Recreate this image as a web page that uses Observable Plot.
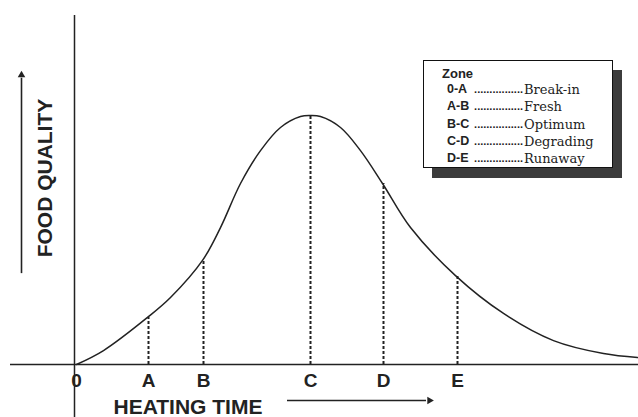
<!DOCTYPE html>
<html>
<head>
<meta charset="utf-8">
<script src="https://cdn.jsdelivr.net/npm/d3@7"></script>
<script src="https://cdn.jsdelivr.net/npm/@observablehq/plot@0.6"></script>
<style>
  html, body { margin: 0; padding: 0; background: #fff; }
  #wrap { position: relative; width: 638px; height: 417px; overflow: hidden; }
  #legend {
    position: absolute; left: 423px; top: 60px; width: 188px; height: 106px;
    border: 1px solid #111; background: #fff;
    box-shadow: 9px 10px 0 #3c3c3c;
    font-family: "Liberation Sans", Arial, sans-serif; color: #222;
  }
  #legend .title { position: absolute; left: 18px; top: 5px; font-size: 13px; font-weight: bold; line-height: 16px; }
  #legend .row { position: absolute; left: 23px; width: 162px; height: 17px; line-height: 17px; }
  #legend .code { position: absolute; left: 0; top: 0; font-size: 12.5px; font-weight: bold; white-space: nowrap; }
  #legend .dots { position: absolute; top: 0; font-size: 11px; font-weight: bold; white-space: nowrap; }
  #legend .desc { position: absolute; left: 77px; top: 0; font-family: "DejaVu Serif", serif; font-size: 13px; white-space: nowrap; }
</style>
</head>
<body>
<div id="wrap"></div>
<script>
// Curve (arbitrary units: heating time, food quality 0-100)
const heatTime    = [0, 2.7, 7.1, 9.4, 12.6, 14.4, 16.4, 18.4, 20.4, 22.4, 23.4, 24.4, 26.4, 28.4, 30.6, 33.4, 37.9, 42.7, 47.7, 52.7, 56.1];
const foodQuality = [0, 5.6, 18.9, 26.9, 41.8, 55.0, 72.7, 85.9, 95.2, 99.6, 100, 99.6, 95.2, 85.9, 72.7, 55.0, 35.7, 20.5, 9.6, 4.4, 2.8];

// Zone boundaries
const tickLabels = ["0", "A", "B", "C", "D", "E"];
const tickTimes  = [0, 7.2, 12.7, 23.4, 30.7, 38.1];
const tickQuality = [0, 18.9, 41.8, 100, 72.7, 35.3];

// Legend
const zoneCodes = ["0-A", "A-B", "B-C", "C-D", "D-E"];
const zoneNames = ["Break-in", "Fresh", "Optimum", "Degrading", "Runaway"];

const curve = heatTime.map((t, i) => ({t, q: foodQuality[i]}));
const ticks = tickLabels.map((label, i) => ({label, t: tickTimes[i], q: tickQuality[i]}));
const dashed = ticks.filter(d => d.label !== "0");

const ink = "#222";
const font = "Liberation Sans, Arial, sans-serif";

const chart = Plot.plot({
  width: 638,
  height: 417,
  marginLeft: 0, marginRight: 0, marginTop: 15, marginBottom: 0,
  x: {domain: [-7.6, 56.2], axis: null},
  y: {domain: [-21.3, 140.2], axis: null},
  style: {background: "#fff", fontFamily: font},
  marks: [
    // axes
    Plot.ruleY([0], {x1: -6.6, x2: 56.2, stroke: ink, strokeWidth: 1.5}),
    Plot.ruleX([-0.2], {y1: -21.3, y2: 140.2, stroke: ink, strokeWidth: 1.5}),
    // zone dashed lines
    Plot.ruleX(dashed, {x: "t", y1: 0, y2: "q", stroke: ink, strokeWidth: 2, strokeDasharray: "3,2"}),
    // quality curve
    Plot.line(curve, {x: "t", y: "q", curve: "catmull-rom", stroke: ink, strokeWidth: 1.5}),
    // tick labels
    Plot.text(ticks, {x: "t", y: -6.4, text: "label", fontSize: 19, fontWeight: "bold", fill: ink}),
    // x title and arrow
    Plot.text(["HEATING TIME"], {x: 3.7, y: -17.1, text: d => d, textAnchor: "start", fontSize: 21, fontWeight: "bold", fill: ink}),
    Plot.ruleY([-14.5], {x1: 21.1, x2: 35.0, stroke: ink, strokeWidth: 1.6}),
    Plot.dot([{x: 35.3, y: -14.5}], {x: "x", y: "y", symbol: "triangle2", r: 3.6, rotate: 90, fill: ink, stroke: "none"}),
    // y title and arrow
    Plot.text(["FOOD QUALITY"], {x: -3.15, y: 74.9, text: d => d, rotate: -90, fontSize: 21, fontWeight: "bold", fill: ink}),
    Plot.ruleX([-5.5], {y1: 36.5, y2: 115, stroke: ink, strokeWidth: 1.6}),
    Plot.dot([{x: -5.5, y: 116.3}], {x: "x", y: "y", symbol: "triangle2", r: 3.6, fill: ink, stroke: "none"})
  ]
});

const wrap = document.getElementById("wrap");
wrap.appendChild(chart);

// Legend box (HTML overlay)
const ctx = document.createElement("canvas").getContext("2d");
const legend = document.createElement("div");
legend.id = "legend";
const title = document.createElement("div");
title.className = "title";
title.textContent = "Zone";
legend.appendChild(title);
zoneCodes.forEach((code, i) => {
  const row = document.createElement("div");
  row.className = "row";
  row.style.top = (20 + i * 17.3) + "px";
  ctx.font = "bold 12.5px 'Liberation Sans', Arial, sans-serif";
  const codeW = ctx.measureText(code + " ").width;
  ctx.font = "bold 11px 'Liberation Sans', Arial, sans-serif";
  const dotW = ctx.measureText(".").width;
  const n = Math.floor((75 - codeW) / dotW);
  const c = document.createElement("span"); c.className = "code"; c.textContent = code;
  const d = document.createElement("span"); d.className = "dots"; d.textContent = ".".repeat(n);
  d.style.left = (76 - n * dotW) + "px";
  const s = document.createElement("span"); s.className = "desc"; s.textContent = zoneNames[i];
  row.append(c, d, s);
  legend.appendChild(row);
});
wrap.appendChild(legend);
</script>
</body>
</html>
